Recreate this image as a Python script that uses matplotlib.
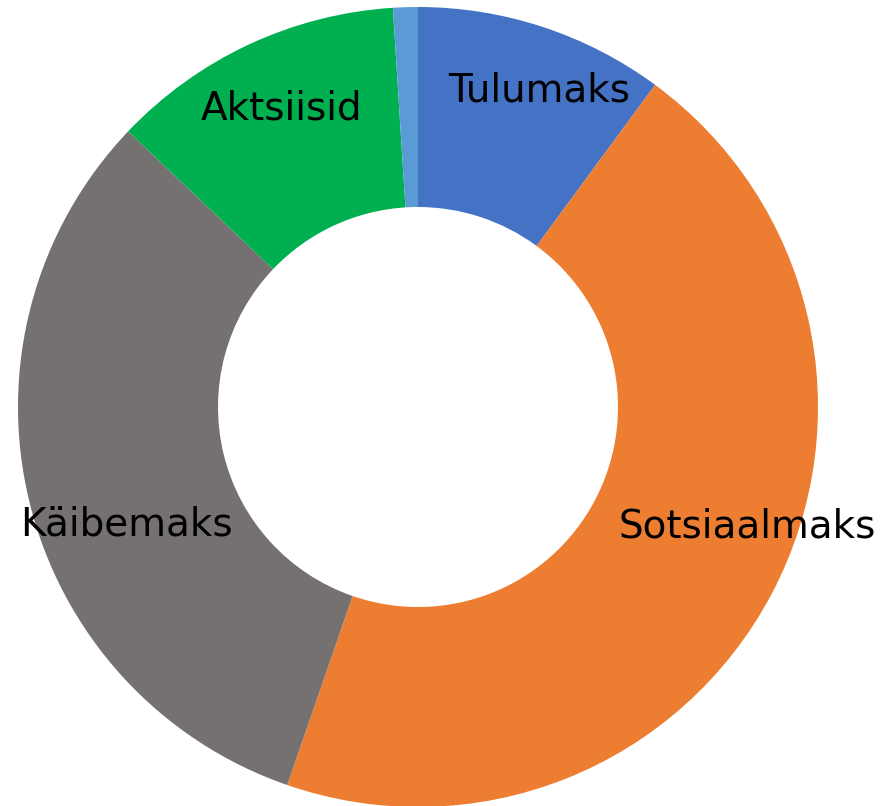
import matplotlib
matplotlib.use("Agg")
import matplotlib.pyplot as plt

categories = ["Tulumaks", "Sotsiaalmaks", "Käibemaks", "Aktsiisid", ""]
values = [10.1, 45.2, 31.8, 11.9, 1.0]
colors = ["#4472C4", "#ED7D31", "#767171", "#00B050", "#5B9BD5"]

W, H = 886, 806
fig = plt.figure(figsize=(W / 100, H / 100), dpi=100)
ax = fig.add_axes([0, 0, 1, 1])
ax.set_xlim(0, W)
ax.set_ylim(0, H)
ax.set_aspect("equal")
ax.axis("off")

cx, cy, r = 418, H - 407, 400
ax.pie(values, colors=colors, startangle=90, counterclock=False,
       center=(cx, cy), radius=r, frame=True,
       wedgeprops=dict(width=r * 0.5, edgecolor="none", linewidth=0))
ax.set_xlim(0, W)
ax.set_ylim(0, H)
ax.axis("off")

# label placement (pixel positions: x center, baseline y from top)
label_pos = {"Tulumaks": (539, 102), "Sotsiaalmaks": (747, 537),
             "Käibemaks": (126, 536), "Aktsiisid": (282, 120)}
for name in categories:
    if name in label_pos:
        x, yb = label_pos[name]
        ax.text(x, H - yb, name, ha="center", va="baseline",
                fontsize=28, color="black", family=["DejaVu Sans"])

fig.savefig("out.png", dpi=100)
